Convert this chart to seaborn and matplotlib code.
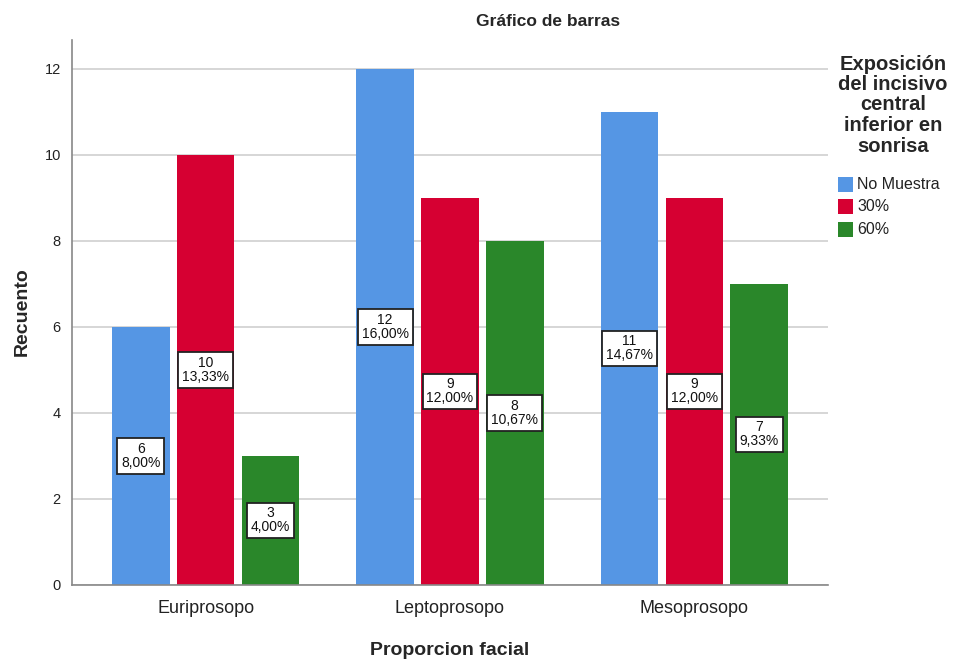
import matplotlib
matplotlib.use("Agg")
import matplotlib.pyplot as plt
import seaborn as sns
import pandas as pd

categories = ["Euriprosopo", "Leptoprosopo", "Mesoprosopo"]
groups = ["No Muestra", "30%", "60%"]
counts_no_muestra = [6, 12, 11]
counts_30 = [10, 9, 9]
counts_60 = [3, 8, 7]
total = 75

colors = ["#5596E4", "#D60032", "#2A872A"]

rows = []
for g, vals in zip(groups, [counts_no_muestra, counts_30, counts_60]):
    for c, v in zip(categories, vals):
        rows.append({"Proporcion facial": c, "grupo": g, "Recuento": v})
df = pd.DataFrame(rows)

sns.set_theme(style="white")
plt.rcParams["font.family"] = ["Liberation Sans", "DejaVu Sans"]

fig = plt.figure(figsize=(9.57, 6.61), dpi=100)
ax = fig.add_axes([0.0752, 0.115, 0.79, 0.8245])

sns.barplot(data=df, x="Proporcion facial", y="Recuento", hue="grupo",
            hue_order=groups, order=categories, palette=colors,
            width=0.795, gap=0.11, saturation=1, ax=ax, legend=False,
            edgecolor="none")

ax.set_xlim(-0.547, 2.547)
ax.set_ylim(0, 12.67)
ax.set_yticks(range(0, 13, 2))
ax.yaxis.grid(True, color="#d0d0d0", linewidth=1.2)
ax.set_axisbelow(True)
for s in ["top", "right"]:
    ax.spines[s].set_visible(False)
for s in ["left", "bottom"]:
    ax.spines[s].set_color("#888888")
    ax.spines[s].set_linewidth(1.2)
ax.tick_params(axis="y", labelsize=10.5, colors="#222222", length=0, pad=8)
ax.tick_params(axis="x", labelsize=13, colors="#222222", length=0, pad=11)
ax.set_xlabel("Proporcion facial", fontsize=14, fontweight="bold", labelpad=18)
ax.set_ylabel("")
fig.text(22 / 957, 1 - 312 / 661, "Recuento", rotation=90, ha="center",
         va="center", fontsize=14, fontweight="bold")

# value labels at mid-height of each bar
for container in ax.containers:
    for bar in container:
        h = bar.get_height()
        xc = bar.get_x() + bar.get_width() / 2
        pct = f"{h / total * 100:.2f}".replace(".", ",")
        ax.text(xc, h / 2, f"{int(h)}\n{pct}%", ha="center", va="center",
                fontsize=10, linespacing=1.0, color="#111111",
                bbox=dict(boxstyle="square,pad=0.28", facecolor="white",
                          edgecolor="#222222", linewidth=1.3))

fig.text(548 / 957, 1 - 22 / 661, "Gráfico de barras", ha="center", va="center",
         fontsize=12.5, fontweight="bold")

# legend block
fig.text(893 / 957, 1 - 105 / 661,
         "Exposición\ndel incisivo\ncentral\ninferior en\nsonrisa",
         ha="center", va="center", fontsize=14.5, fontweight="bold",
         linespacing=1.1)
for i, (g, col) in enumerate(zip(groups, colors)):
    y = 1 - (184 + i * 22.5) / 661
    fig.patches.append(plt.Rectangle((838 / 957, y - 7.5 / 661), 15 / 957, 15 / 661,
                                     transform=fig.transFigure, facecolor=col,
                                     edgecolor="none"))
    fig.text(857 / 957, y, g, ha="left", va="center", fontsize=11.5, color="#222222")

fig.savefig("out.png", dpi=100)
